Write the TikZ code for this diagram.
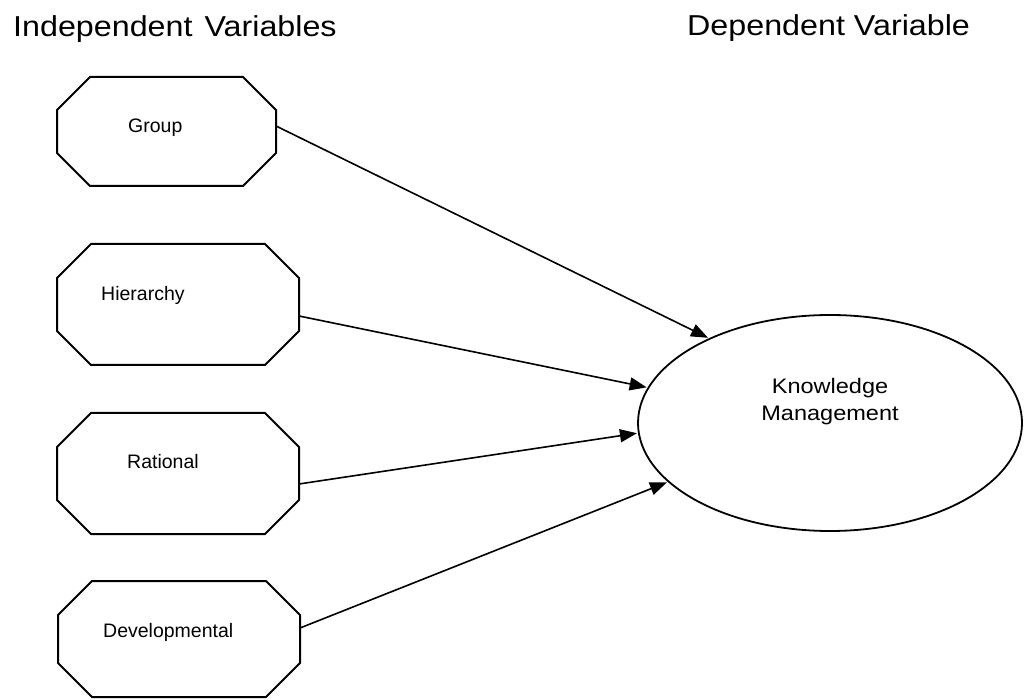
\documentclass[tikz,border=0pt]{standalone}
\usepackage{fontspec}
\setmainfont{Liberation Sans}
\newfontfamily\headfont[FakeStretch=1.12]{Liberation Sans}
\newfontfamily\ovalfont[FakeStretch=1.12]{Liberation Sans}
\usetikzlibrary{arrows.meta,shapes.geometric}

% octagonal box: left, bottom, right, top, chamfer
\newcommand\octbox[5]{%
  \draw[boxline] (#1,#2+#5) -- (#1,#4-#5) -- (#1+#5,#4) -- (#3-#5,#4)
    -- (#3,#4-#5) -- (#3,#2+#5) -- (#3-#5,#2) -- (#1+#5,#2) -- cycle;}

\tikzset{
  boxline/.style={line width=2pt, line join=miter},
  boxtext/.style={anchor=base west, inner sep=0pt, font=\fontsize{19.5}{22}\selectfont},
  headtext/.style={anchor=base west, inner sep=0pt, font=\headfont\fontsize{28.8}{32}\selectfont},
  oval/.style={ellipse, draw, line width=1.8pt, minimum width=384pt, minimum height=216pt, inner sep=0pt},
  ovaltext/.style={align=center, inner sep=0pt, font=\ovalfont\fontsize{21}{27}\selectfont},
  link/.style={line width=1.6pt, -{Triangle[length=17pt,width=13pt]}, shorten >=1pt}
}

\begin{document}
\begin{tikzpicture}[x=1pt, y=1pt]
\useasboundingbox (0,0) rectangle (1030,699);

% column headings
\node[headtext] (indep) at (13,662) {Independent\hspace{12pt}Variables};
\node[headtext] (dep) at (687,663) {Dependent Variable};

% independent variables
\octbox{57}{513}{276}{622}{33}
\node[boxtext] (group) at (128,566) {Group};
\coordinate (gR) at (276,573);

\octbox{57}{334}{299}{455}{34}
\node[boxtext] (hier) at (101,398) {Hierarchy};
\coordinate (hR) at (299,383);

\octbox{57}{165}{299}{286}{34}
\node[boxtext] (rat) at (127,230) {Rational};
\coordinate (rR) at (299,215);

\octbox{58}{2}{300}{118}{34}
\node[boxtext] (dev) at (103,62) {Developmental};
\coordinate (dR) at (300,71);

% dependent variable
\node[oval] (km) at (830,276) {};
\node[ovaltext] (kmtext) at (830,297) {Knowledge\\Management};

% effects
\draw[link] (gR) -- (km.145.8);
\draw[link] (hR) -- (km.169.4);
\draw[link] (rR) -- (km.183.6);
\draw[link] (dR) -- (km.200.3);
\end{tikzpicture}
\end{document}
